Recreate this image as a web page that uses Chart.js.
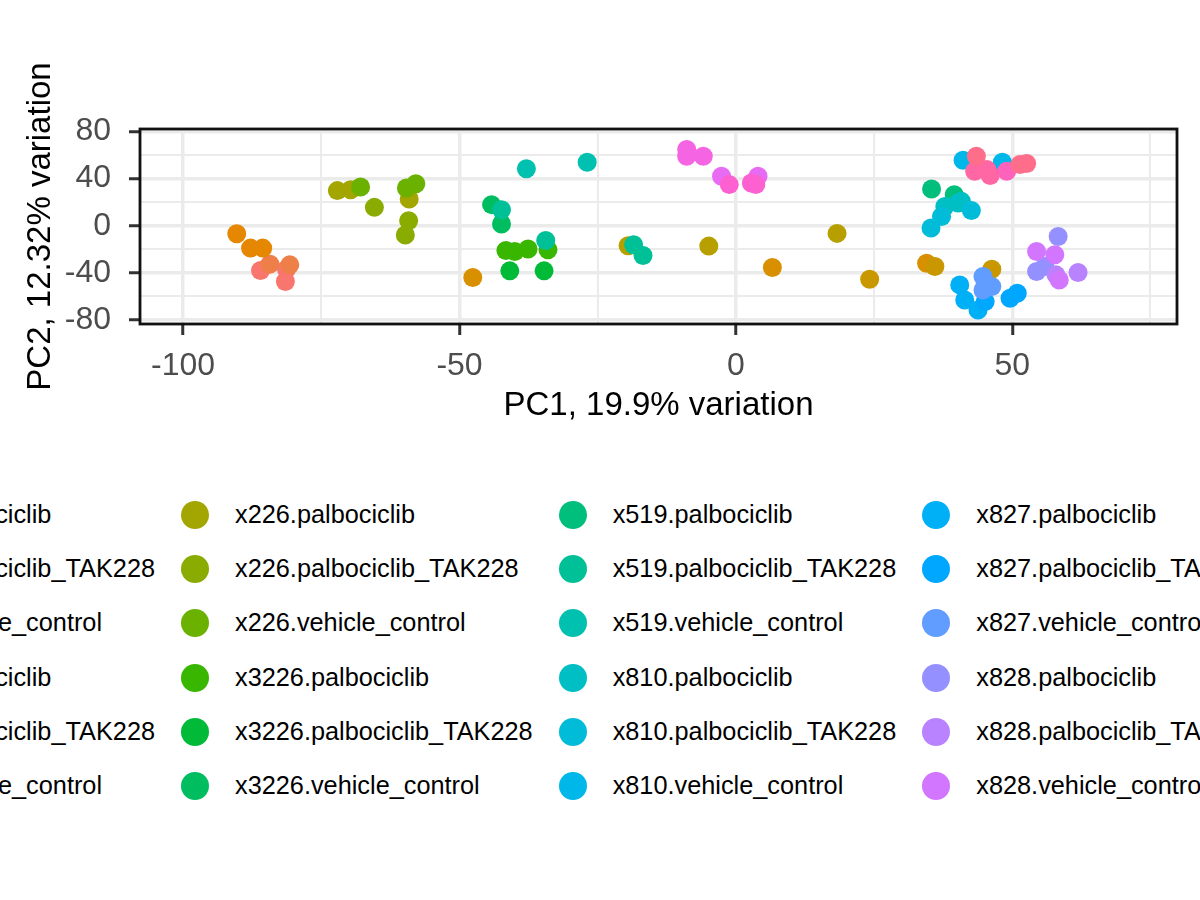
<!DOCTYPE html>
<html>
<head>
<meta charset="utf-8">
<script src="https://cdn.jsdelivr.net/npm/chart.js@4.4.1/dist/chart.umd.min.js"></script>
<style>
html,body{margin:0;padding:0;width:1200px;height:900px;overflow:hidden;background:#fff;
  font-family:"Liberation Sans",Arial,Helvetica,sans-serif;}
#wrap{position:relative;width:1200px;height:900px;overflow:hidden;background:#fff;}
#plot{position:absolute;left:0;top:0;}
.key{position:absolute;width:28px;height:28px;border-radius:50%;}
.lab{position:absolute;font-size:25.3px;line-height:30px;white-space:nowrap;color:#000;}
</style>
</head>
<body>
<div id="wrap">
  <canvas id="plot" width="1200" height="440"></canvas>
  <div id="legend"></div>
</div>
<script>
// ---------------- data ----------------
const groupNames = [
  'x1002.palbociclib','x1002.palbociclib_TAK228','x1002.vehicle_control',
  'x1005.palbociclib','x1005.palbociclib_TAK228','x1005.vehicle_control',
  'x226.palbociclib','x226.palbociclib_TAK228','x226.vehicle_control',
  'x3226.palbociclib','x3226.palbociclib_TAK228','x3226.vehicle_control',
  'x519.palbociclib','x519.palbociclib_TAK228','x519.vehicle_control',
  'x810.palbociclib','x810.palbociclib_TAK228','x810.vehicle_control',
  'x827.palbociclib','x827.palbociclib_TAK228','x827.vehicle_control',
  'x828.palbociclib','x828.palbociclib_TAK228','x828.vehicle_control',
  'x901.palbociclib','x901.palbociclib_TAK228','x901.vehicle_control',
  'x905.palbociclib','x905.palbociclib_TAK228','x905.vehicle_control'
];

const pc1Values = [
  [-86.0,-81.3,-81.5],
  [-84.3,-80.7],
  [-90.3,-87.8,-85.6],
  [-47.6,6.6,34.5],
  [24.2,36.0,46.3],
  [-19.5,-4.9,18.3],
  [-72.1,-69.7,-59.1],
  [-65.4,-59.2,-59.8],
  [-67.9,-59.6,-57.9],
  [-40.0,-41.6,-37.6,-34.0],
  [-40.9,-34.7],
  [-44.2,-42.4],
  [35.4,39.5],
  [-42.4,-34.4,-18.5,-16.8],
  [-37.9,-26.9],
  [37.8,40.8,40.2],
  [35.3,37.2,42.6],
  [41.1,48.2],
  [40.5,43.8,41.4],
  [45.1,49.6,50.9],
  [44.7,46.3,44.7],
  [58.3,54.4,55.9],
  [57.9,61.9],
  [54.4,57.7,58.5],
  [-2.6,4.0],
  [-8.9,-8.9,-5.9],
  [-1.2,2.8,3.6],
  [49.0],
  [43.2,45.4,46.0],
  [43.5,51.4,52.6]
];

const pc2Values = [
  [-38.0,-36.9,-47.4],
  [-32.6,-33.2],
  [-6.8,-19.0,-19.0],
  [-44.0,-35.5,-31.8],
  [-45.4,-34.6,-36.9],
  [-17.0,-17.3,-6.5],
  [29.8,30.6,22.7],
  [15.6,4.3,-7.9],
  [32.9,32.1,35.7],
  [-21.8,-21.0,-19.8,-20.4],
  [-38.3,-38.3],
  [17.9,1.4],
  [31.2,26.4],
  [13.6,-12.5,-16.2,-25.3],
  [48.3,53.9],
  [16.4,20.7,19.3],
  [-2.0,7.9,13.0],
  [55.6,53.9],
  [-50.2,-71.5,-63.0],
  [-64.4,-61.5,-57.3],
  [-43.1,-51.6,-54.5],
  [-9.1,-38.9,-34.6],
  [-41.7,-39.7],
  [-21.9,-24.7,-46.0],
  [42.0,42.0],
  [64.7,59.0,59.0],
  [34.9,36.3,34.9],
  [46.2],
  [46.2,47.7,42.6],
  [59.0,51.9,52.8]
];

const xTickValues = [-100,-75,-50,-25,0,25,50,75];
const xTickLabels = ['-100','-50','0','50'];
const yTickValues = [-80,-60,-40,-20,0,20,40,60,80];
const yTickLabels = ['-80','-40','0','40','80'];
const xTitle = 'PC1, 19.9% variation';
const yTitle = 'PC2, 12.32% variation';

// ------------- ggplot-like hue palette (hcl, c=100, l=65) -------------
function hclHex(h, c, l) {
  const hr = h * Math.PI / 180;
  const U = c * Math.cos(hr), V = c * Math.sin(hr);
  const Xn = 95.047, Yn = 100, Zn = 108.883;
  const Y = l > 7.999592 ? Yn * Math.pow((l + 16) / 116, 3) : Yn * l / 903.3;
  const den = Xn + 15 * Yn + 3 * Zn;
  const un = 4 * Xn / den, vn = 9 * Yn / den;
  const u = U / (13 * l) + un, v = V / (13 * l) + vn;
  const X = 9 * Y * u / (4 * v);
  const Z = -X / 3 - 5 * Y + 3 * Y / v;
  const x = X / 100, y = Y / 100, z = Z / 100;
  const lin = [
    3.240479 * x - 1.537150 * y - 0.498535 * z,
    -0.969256 * x + 1.875992 * y + 0.041556 * z,
    0.055648 * x - 0.204043 * y + 1.057311 * z
  ];
  return '#' + lin.map(t => {
    let g = t <= 0.0031308 ? 12.92 * t : 1.055 * Math.pow(t, 1 / 2.4) - 0.055;
    g = Math.min(1, Math.max(0, g));
    return Math.round(g * 255).toString(16).padStart(2, '0');
  }).join('');
}
const nGroups = groupNames.length;
const groupColors = groupNames.map((_, i) => hclHex(15 + i * (348 / (nGroups - 1)), 100, 65));

// ---------------- chart ----------------
const FONT = '"Liberation Sans", Arial, Helvetica, sans-serif';
Chart.defaults.font.family = FONT;

const datasets = groupNames.map((name, i) => ({
  label: name,
  data: pc1Values[i].map((x, j) => ({x: x, y: pc2Values[i][j]})),
  backgroundColor: groupColors[i],
  borderWidth: 0,
  pointRadius: 9.5,
  pointHoverRadius: 9.5,
  order: -i
}));

const isXMajor = v => xTickLabels.includes(String(v));
const isYMajor = v => yTickLabels.includes(String(v));

const panelBorder = {
  id: 'panelBorder',
  afterDraw(chart) {
    const {ctx, chartArea: a} = chart;
    ctx.save();
    ctx.strokeStyle = '#111111';
    ctx.lineWidth = 2.8;
    ctx.strokeRect(a.left, a.top, a.right - a.left, a.bottom - a.top);
    ctx.restore();
  }
};

new Chart(document.getElementById('plot'), {
  type: 'scatter',
  data: {datasets},
  plugins: [panelBorder],
  options: {
    responsive: false,
    animation: false,
    devicePixelRatio: 1,
    layout: {padding: {top: 129, right: 23, left: 0, bottom: 0}},
    plugins: {legend: {display: false}, tooltip: {enabled: false}},
    scales: {
      x: {
        type: 'linear', min: -107.8, max: 79.8,
        afterBuildTicks: s => { s.ticks = xTickValues.map(v => ({value: v})); },
        afterFit: s => { s.height = 116; },
        ticks: {
          autoSkip: false, maxRotation: 0, minRotation: 0, padding: 12,
          color: '#4D4D4D', font: {size: 32},
          callback: v => isXMajor(v) ? String(v) : ''
        },
        grid: {
          color: '#EBEBEB',
          lineWidth: c => (c.tick && isXMajor(c.tick.value)) ? 3.5 : 2,
          tickColor: c => (c.tick && isXMajor(c.tick.value)) ? '#333333' : 'rgba(0,0,0,0)',
          tickWidth: 3, tickLength: 11, drawTicks: true
        },
        border: {display: false},
        title: {display: true, text: xTitle, color: '#000', font: {size: 33}, padding: {top: 0, bottom: 14.5}}
      },
      y: {
        type: 'linear', min: -83.4, max: 82.1,
        afterBuildTicks: s => { s.ticks = yTickValues.map(v => ({value: v})); },
        afterFit: s => { s.width = 140; },
        ticks: {
          autoSkip: false, padding: 18,
          color: '#4D4D4D', font: {size: 32},
          callback: v => isYMajor(v) ? String(v) : ''
        },
        grid: {
          color: '#EBEBEB',
          lineWidth: c => (c.tick && isYMajor(c.tick.value)) ? 3.5 : 2,
          tickColor: c => (c.tick && isYMajor(c.tick.value)) ? '#333333' : 'rgba(0,0,0,0)',
          tickWidth: 3, tickLength: 11, drawTicks: true
        },
        border: {display: false},
        title: {display: true, text: yTitle, color: '#000', font: {size: 33}, padding: {top: 21, bottom: 0}}
      }
    }
  }
});

// ---------------- legend (ggplot style, 6 rows, column-major) ----------------
(function buildLegend() {
  const legend = document.getElementById('legend');
  const m = document.createElement('canvas').getContext('2d');
  m.font = '25.3px ' + FONT;
  const nRows = 6;
  const nCols = Math.ceil(nGroups / nRows);
  const colW = [];
  for (let c = 0; c < nCols; c++) {
    let w = 0;
    for (let r = 0; r < nRows; r++) {
      const i = c * nRows + r;
      if (i < nGroups) w = Math.max(w, m.measureText(groupNames[i]).width);
    }
    colW.push(w);
  }
  const keyX = [];
  keyX[1] = 195;
  keyX[0] = keyX[1] - colW[0] - 80;
  for (let c = 2; c < nCols; c++) keyX[c] = keyX[c - 1] + colW[c - 1] + 80;
  for (let i = 0; i < nGroups; i++) {
    const c = Math.floor(i / nRows), r = i % nRows;
    const cy = 515 + r * 54.2;
    const k = document.createElement('div');
    k.className = 'key';
    k.style.left = (keyX[c] - 14) + 'px';
    k.style.top = (cy - 14) + 'px';
    k.style.background = groupColors[i];
    legend.appendChild(k);
    const t = document.createElement('div');
    t.className = 'lab';
    t.style.left = (keyX[c] + 40) + 'px';
    t.style.top = (cy - 16) + 'px';
    t.textContent = groupNames[i];
    legend.appendChild(t);
  }
})();
</script>
</body>
</html>
